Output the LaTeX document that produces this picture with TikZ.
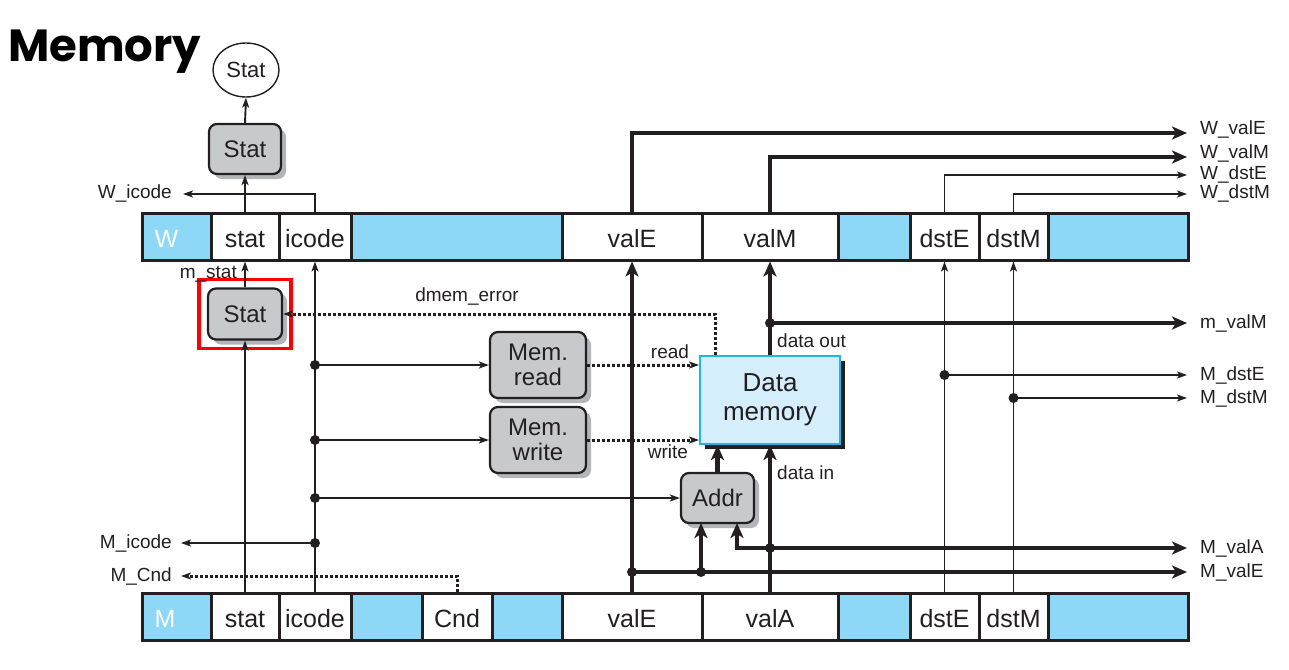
\documentclass[tikz,border=0pt]{standalone}
\usepackage{fontspec}
\setmainfont{Liberation Sans}
\newfontfamily\titlefont{Poppins}
\usetikzlibrary{arrows.meta}
\usetikzlibrary{fit}
\usetikzlibrary{positioning}
\usetikzlibrary{shadows}
\usetikzlibrary{shapes.geometric}
\definecolor{ink}{HTML}{231F20}
\definecolor{regblue}{HTML}{8DD7F7}
\definecolor{boxgray}{HTML}{C8C9CB}
\definecolor{shadegray}{HTML}{B4B5B8}
\definecolor{memfill}{HTML}{D4EFFB}
\definecolor{memline}{HTML}{22B4EA}
\newcommand*{\fs}[2][]{\fontsize{#2}{\ifx&#1&#2\else#1\fi}\selectfont}
\tikzset{
    cell/.style = {draw=ink,line width=3pt,inner sep=0,minimum height=47pt,
        text height=24pt,text depth=3pt,font=\fs{25},text=ink},
    pad/.style = {cell,fill=regblue},
    tag/.style = {pad,text=white,text width=44pt,align=left},
    box/.style = {draw=ink,line width=2.2pt,fill=boxgray,rounded corners=8pt,
        font=\fs[25]{24},text=ink,align=center,inner sep=0,
        drop shadow={shadow xshift=5pt,shadow yshift=-5pt,fill=shadegray,opacity=1}},
    mem/.style = {draw=memline,line width=2pt,fill=memfill,font=\fs[29]{26},text=ink,
        align=center,inner sep=0,minimum width=140pt,minimum height=88pt,
        drop shadow={shadow xshift=5pt,shadow yshift=-5pt,fill=ink,opacity=1}},
    outlbl/.style = {font=\fs{19},text=ink,inner sep=0},
    hilite/.style = {draw=red,line width=3.5pt,inner sep=8pt}
}
\tikzset{
    wire/.style = {draw=ink,line width=1.9pt,-{Stealth[length=10pt,width=7pt,inset=2.5pt]}},
    bus/.style = {draw=ink,line width=4.5pt,-{Stealth[length=15pt,width=13pt,inset=4pt]}},
    ctrl/.style = {draw=ink,line width=3pt,dash pattern=on 3pt off 2pt,
        -{Stealth[length=10pt,width=7pt,inset=2.5pt]}},
    dot/.style = {fill=ink}
}
\begin{document}
\begin{tikzpicture}[x=1pt,y=-1pt]
    \useasboundingbox (0,0) rectangle (1289,669);
    % Title
    \node[anchor=base west,inner sep=0,font=\titlefont\bfseries\fs{45}] (title) at (8,62) {Memory};
    % W register
    \foreach \nm/\xa/\xb/\txt in {Wstat/211/279/stat,Wicode/279/351/icode,WvalE/562/702/valE,
            WvalM/702/838/valM,WdstE/910/979/dstE,WdstM/979/1048/dstM}
        \node[cell,minimum width={(\xb-\xa)*1pt}] (\nm) at ({(\xa+\xb)/2},236.5) {\txt};
    \foreach \nm/\xa/\xb in {Wpad1/351/562,Wpad2/838/910,Wpad3/1048/1188}
        \node[pad,minimum width={(\xb-\xa)*1pt}] (\nm) at ({(\xa+\xb)/2},236.5) {};
    \node[tag,minimum width=69pt] (Wtag) at (176.5,236.5) {W};
    % M register
    \foreach \nm/\xa/\xb/\txt in {Mstat/211/279/stat,Micode/279/351/icode,MCnd/422/492/Cnd,
            MvalE/562/702/valE,MvalA/702/838/valA,MdstE/910/979/dstE,MdstM/979/1048/dstM}
        \node[cell,minimum width={(\xb-\xa)*1pt}] (\nm) at ({(\xa+\xb)/2},616.5) {\txt};
    \foreach \nm/\xa/\xb in {Mpad1/351/422,Mpad2/492/562,Mpad3/838/910,Mpad4/1048/1188}
        \node[pad,minimum width={(\xb-\xa)*1pt}] (\nm) at ({(\xa+\xb)/2},616.5) {};
    \node[tag,minimum width=69pt] (Mtag) at (176.5,616.5) {M};
    % Logic blocks
    \node[draw=ink,ellipse,line width=1.4pt,minimum width=66pt,minimum height=54pt,
        inner sep=0,font=\fs{22},text=ink] (StatOut) at (246,70) {Stat};
    \node[box,minimum width=72pt,minimum height=50pt] (StatW) at (245,149) {Stat};
    \node[box,minimum width=74pt,minimum height=51pt] (StatM) at (245,314) {Stat};
    \node[hilite,fit=(StatM)] (hl) {};
    \node[box,minimum width=96pt,minimum height=66pt] (MemRead) at (538,365) {Mem.\\read};
    \node[box,minimum width=96pt,minimum height=66pt] (MemWrite) at (538,440) {Mem.\\write};
    \node[box,minimum width=73pt,minimum height=50pt] (Addr) at (717.5,498) {Addr};
    \node[mem] (DataMem) at (770,400) {Data\\memory};
    % Junctions
    \coordinate (jRead) at (Micode |- MemRead);
    \coordinate (jWrite) at (Micode |- MemWrite);
    \coordinate (jAddr) at (Micode |- Addr);
    \coordinate (jIcode) at (315,543);
    \coordinate (jOut) at (770,323);
    \coordinate (jValA) at (770,548);
    \coordinate (jValE) at (632,572);
    \coordinate (jAddrE) at (701,572);
    \coordinate (jDstE) at (944.5,375);
    \coordinate (jDstM) at (1013.5,398);
    \coordinate (addrE) at (701,523);
    \coordinate (addrA) at (737,523);
    \coordinate[xshift=16pt] (dmemsrc) at (DataMem.north west);
    % Arrow ends
    \coordinate (tWicode) at (183,194);
    \coordinate (tMicode) at (181,543);
    \coordinate (tMCnd) at (181,576);
    \foreach \tp/\y in {tWvalE/133,tWvalM/157,tWdstE/175,tWdstM/194,tmvalM/323,
            tMdstE/375,tMdstM/398,tMvalA/548,tMvalE/572}
        \coordinate (\tp) at (1187,\y);
    % Output labels
    \node[outlbl,left=11pt of tWicode] (lWicode) {W\_icode};
    \node[outlbl,left=9pt of tMicode] (lMicode) {M\_icode};
    \node[outlbl,left=9pt of tMCnd] (lMCnd) {M\_Cnd};
    \node[outlbl,right=13pt of tWvalE,yshift=3pt] (lWvalE) {W\_valE};
    \node[outlbl,right=13pt of tWvalM,yshift=3pt] (lWvalM) {W\_valM};
    \node[outlbl,right=13pt of tWdstE] (lWdstE) {W\_dstE};
    \node[outlbl,right=13pt of tWdstM] (lWdstM) {W\_dstM};
    \node[outlbl,right=13pt of tmvalM] (lmvalM) {m\_valM};
    \node[outlbl,right=13pt of tMdstE] (lMdstE) {M\_dstE};
    \node[outlbl,right=13pt of tMdstM] (lMdstM) {M\_dstM};
    \node[outlbl,right=13pt of tMvalA] (lMvalA) {M\_valA};
    \node[outlbl,right=13pt of tMvalE] (lMvalE) {M\_valE};
    % Inner labels
    \node[outlbl,anchor=east] (lmstat) at (237,274) {m\_stat};
    \node[outlbl] (ldmem) at (467,297) {dmem\_error};
    \node[outlbl] (lread) at (670,352) {read};
    \node[outlbl] (lwrite) at (668,452) {write};
    \node[outlbl,anchor=west] (lout) at (777,341) {data out};
    \node[outlbl,anchor=west] (lin) at (777,473) {data in};
    % Write-back side
    \draw[wire] (StatW.north) -- (StatOut.south);
    \draw[wire] (Wstat.north) -- (StatW.south);
    \draw[wire] (Wicode.north) |- (tWicode);
    \draw[bus] (WvalE.north) |- (tWvalE);
    \draw[bus] (WvalM.north) |- (tWvalM);
    \draw[wire] (WdstE.north) |- (tWdstE);
    \draw[wire] (WdstM.north) |- (tWdstM);
    % Memory stage control
    \draw[wire] (StatM.north) -- (Wstat.south);
    \draw[wire] (Mstat.north) -- (StatM.south);
    \draw[wire] (Micode.north) -- (Wicode.south);
    \draw[wire] (jIcode) -- (tMicode);
    \draw[ctrl] (MCnd.north) |- (tMCnd);
    \foreach \src/\dest in {jRead/MemRead,jWrite/MemWrite,jAddr/Addr}
        \draw[wire] (\src) -- (\dest.west);
    \draw[ctrl] (MemRead.east) -- (MemRead.east -| DataMem.west);
    \draw[ctrl] (MemWrite.east) -- (MemWrite.east -| DataMem.west);
    \draw[ctrl] (dmemsrc) |- (StatM.east);
    % Memory stage data
    \draw[bus] (MvalE.north) -- (WvalE.south);
    \draw[bus] (DataMem.north) -- (WvalM.south);
    \draw[bus] (jOut) -- (tmvalM);
    \draw[bus] (MvalA.north) -- (DataMem.south);
    \draw[bus] (jValA) -- (tMvalA);
    \draw[bus] (jValA) -| (addrA);
    \draw[bus] (jValE) -- (tMvalE);
    \draw[bus] (jAddrE) -- (addrE);
    \draw[bus] (Addr.north) -- (Addr.north |- DataMem.south);
    \draw[wire] (MdstE.north) -- (WdstE.south);
    \draw[wire] (MdstM.north) -- (WdstM.south);
    \draw[wire] (jDstE) -- (tMdstE);
    \draw[wire] (jDstM) -- (tMdstM);
    % Dots
    \foreach \j in {jRead,jWrite,jAddr,jIcode,jOut,jValA,jValE,jAddrE,jDstE,jDstM}
        \fill[dot] (\j) circle (5pt);
\end{tikzpicture}
\end{document}
